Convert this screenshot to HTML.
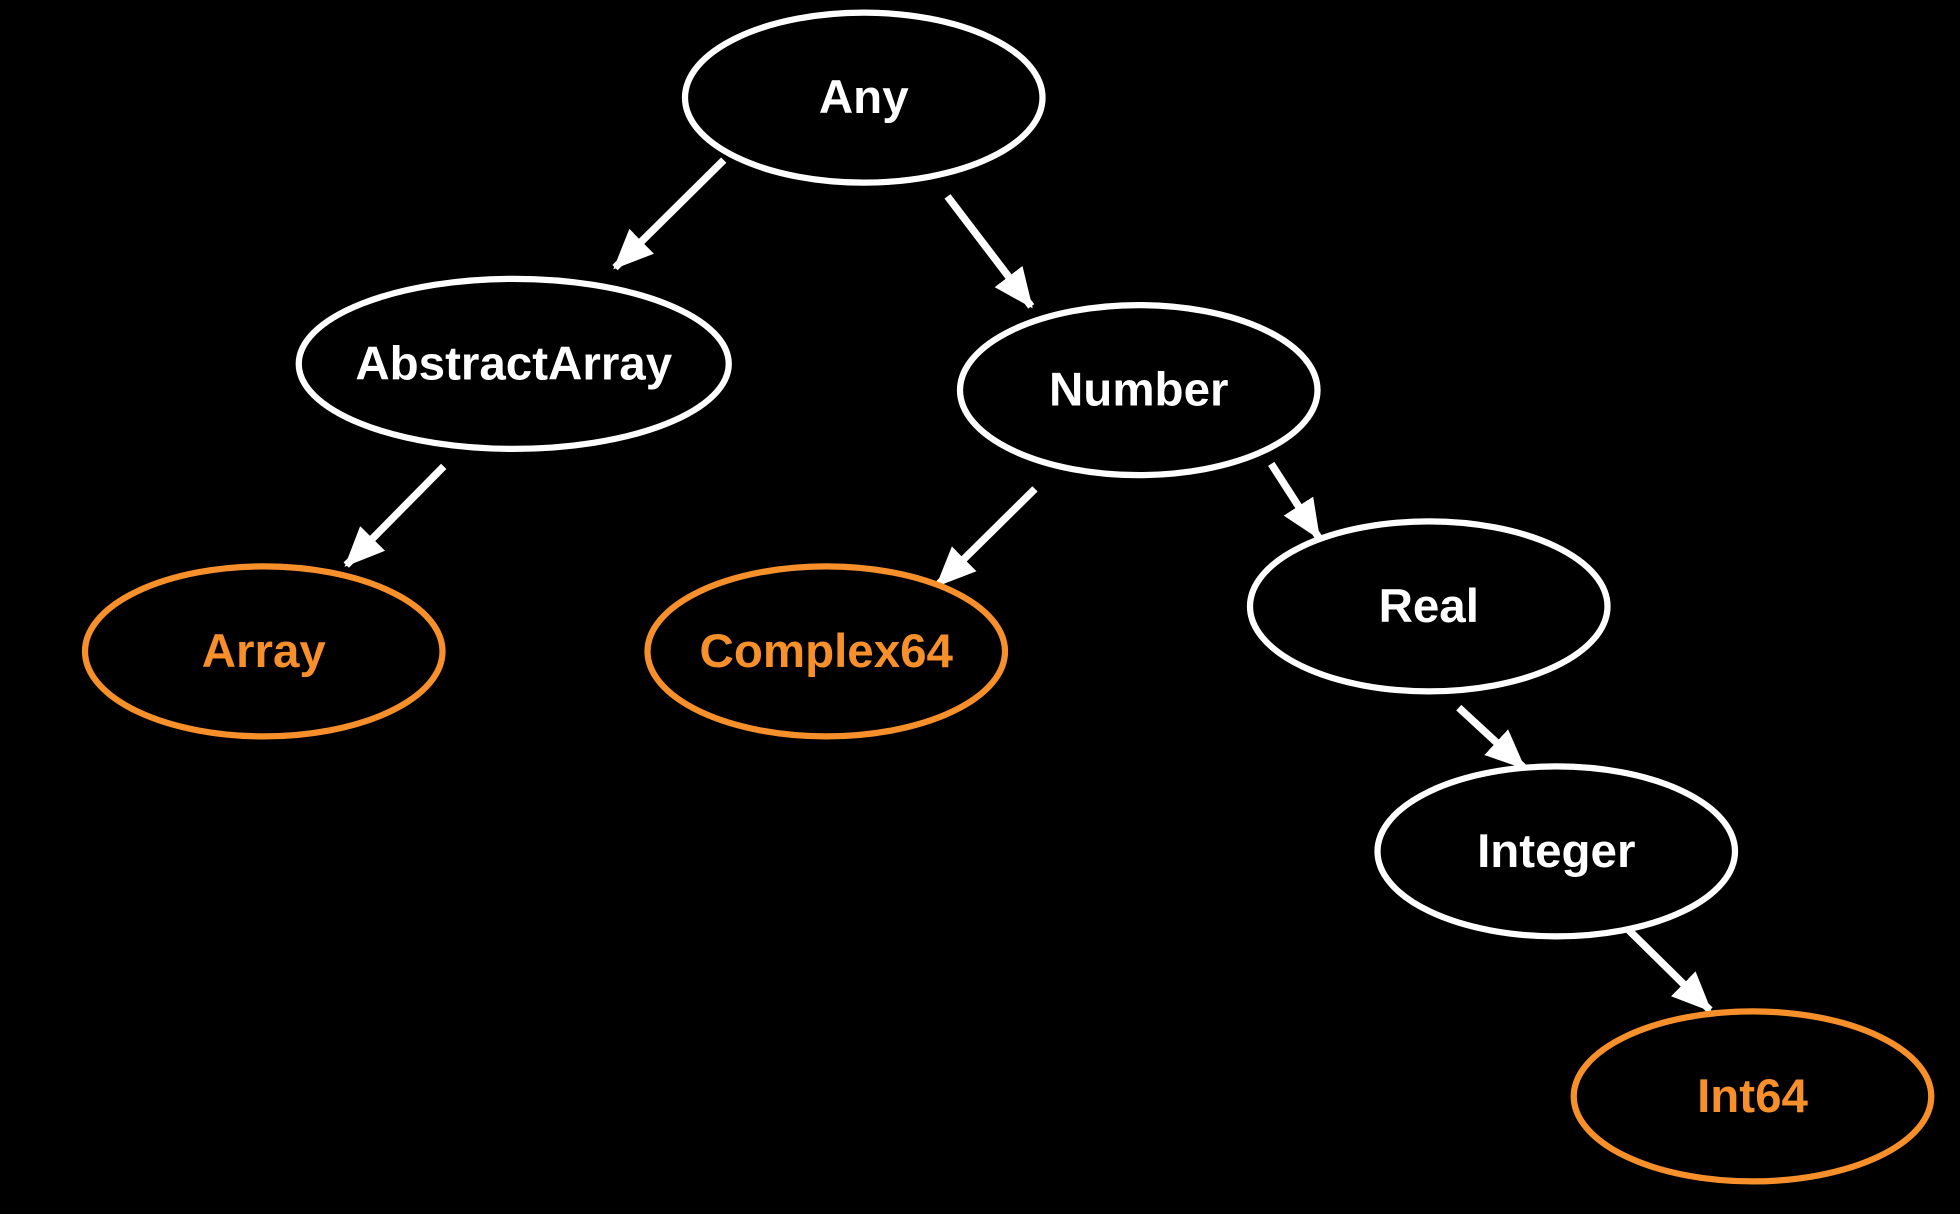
<!DOCTYPE html>
<html><head><meta charset="utf-8"><style>
html,body{margin:0;padding:0;background:#000;}
svg{display:block;}
text{font-family:"Liberation Sans",Arial,sans-serif;font-weight:bold;font-size:38px;text-anchor:middle;dominant-baseline:central;}
</style></head><body>
<svg width="1960" height="1214" viewBox="0 0 1568 971" xmlns="http://www.w3.org/2000/svg">
<rect width="1568" height="971" fill="#000"/>
<defs>
<marker id="ah" markerUnits="userSpaceOnUse" markerWidth="34" markerHeight="30" refX="30" refY="14" orient="auto">
<path d="M0,0 L32,14 L0,28 Z" fill="#fff"/>
</marker>
</defs>
<g stroke="#fff" stroke-width="6" fill="none" stroke-linejoin="miter">
<line x1="579" y1="128" x2="492" y2="214" marker-end="url(#ah)"/>
<line x1="758" y1="157" x2="825" y2="245" marker-end="url(#ah)"/>
<line x1="355" y1="373" x2="277" y2="452" marker-end="url(#ah)"/>
<line x1="828" y1="391" x2="750" y2="468" marker-end="url(#ah)"/>
<line x1="1017" y1="371" x2="1055" y2="430" marker-end="url(#ah)"/>
<line x1="1167" y1="566" x2="1219" y2="614" marker-end="url(#ah)"/>
<line x1="1303" y1="744" x2="1368" y2="808" marker-end="url(#ah)"/>
</g>
<g stroke-width="5" fill="#000">
<ellipse cx="691" cy="78" rx="143" ry="68" stroke="#fff"/>
<ellipse cx="411" cy="291" rx="172" ry="68" stroke="#fff"/>
<ellipse cx="911" cy="312" rx="143" ry="68" stroke="#fff"/>
<ellipse cx="211" cy="521" rx="143" ry="68" stroke="#f7902b"/>
<ellipse cx="661" cy="521" rx="143" ry="68" stroke="#f7902b"/>
<ellipse cx="1143" cy="485" rx="143" ry="68" stroke="#fff"/>
<ellipse cx="1245" cy="681" rx="143" ry="68" stroke="#fff"/>
<ellipse cx="1402" cy="877" rx="143" ry="68" stroke="#f7902b"/>
</g>
<text x="691" y="78" fill="#fff">Any</text>
<text x="411" y="291" fill="#fff">AbstractArray</text>
<text x="911" y="312" fill="#fff">Number</text>
<text x="211" y="521" fill="#f7902b">Array</text>
<text x="661" y="521" fill="#f7902b">Complex64</text>
<text x="1143" y="485" fill="#fff">Real</text>
<text x="1245" y="681" fill="#fff">Integer</text>
<text x="1402" y="877" fill="#f7902b">Int64</text>
</svg>
</body></html>
